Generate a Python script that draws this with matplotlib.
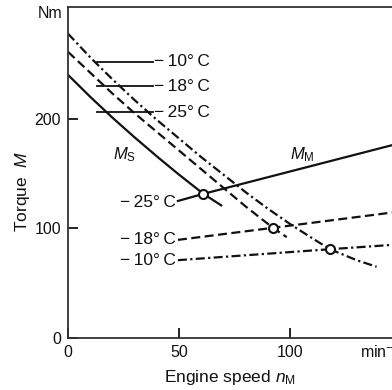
import matplotlib
matplotlib.use("Agg")
import matplotlib.pyplot as plt
import numpy as np

plt.rcParams['font.family'] = ['Liberation Sans', 'DejaVu Sans']
plt.rcParams['mathtext.fontset'] = 'custom'
plt.rcParams['mathtext.rm'] = 'Liberation Sans'
plt.rcParams['mathtext.it'] = 'Liberation Sans:italic'
plt.rcParams['lines.scale_dashes'] = False

# starter torque demand M_S vs engine speed, one curve per temperature
ms_x_25 = [0, 10, 20, 30, 41, 50, 61, 69]
ms_y_25 = [240, 220, 201, 183, 164, 149, 131.5, 121]
ms_x_18 = [0, 10, 20, 30, 40, 50, 60, 70, 80, 92.3, 98.5]
ms_y_18 = [261, 242, 223, 205, 188, 171, 154, 137, 120, 100.5, 92]
ms_x_10 = [0, 10, 20, 30, 40, 50, 60, 70, 80, 90, 100, 110, 118, 130, 139]
ms_y_10 = [277.6, 256, 236, 217, 199, 182, 165, 149, 133, 118, 104, 91, 81, 71, 65]

# engine drag torque M_M
mm_x_25 = [49.5, 61, 150]
mm_y_25 = [125, 131.5, 178]
mm_x_18 = [49.5, 92.3, 150]
mm_y_18 = [89.5, 100.5, 115.5]
mm_x_10 = [49.5, 118, 150]
mm_y_10 = [71, 81, 85.5]

# operating points (intersections)
op_x = [61, 92.3, 118]
op_y = [131.5, 100.5, 81]

temps = ["−\u200910°\u2009C", "−\u200918°\u2009C", "−\u200925°\u2009C"]
right_label_y = [252, 229.5, 206]
left_label_y = [70.6, 89.5, 124]

dashed = (0, (6.5, 3.2))
dashdot = (0, (6.5, 2.4, 1.6, 2.4))
ink = '#111111'
lw = 1.6

fig = plt.figure(figsize=(3.92, 3.90), dpi=100)
ax = fig.add_axes([0.1735, 0.1333, 0.8495, 0.849])

ax.plot(ms_x_25, ms_y_25, color=ink, lw=lw)
ax.plot(ms_x_18, ms_y_18, color=ink, lw=lw, linestyle=dashed)
ax.plot(ms_x_10, ms_y_10, color=ink, lw=lw, linestyle=dashdot)

ax.plot(mm_x_25, mm_y_25, color=ink, lw=lw)
ax.plot(mm_x_18, mm_y_18, color=ink, lw=lw, linestyle=dashed)
ax.plot(mm_x_10, mm_y_10, color=ink, lw=lw, linestyle=dashdot)

ax.plot(op_x, op_y, 'o', ms=6.5, mfc='white', mec=ink, mew=1.5, zorder=5)

# leader lines to the temperature labels at top
for yy, t in zip(right_label_y, temps):
    ax.plot([13, 38.5], [yy, yy], color=ink, lw=1.3)
    ax.text(38.6, yy, t, fontsize=12.5, va='center', ha='left', color=ink)

for yy, t in zip(left_label_y, temps):
    ax.text(48.6, yy, t, fontsize=12.5, va='center', ha='right', color=ink)

ax.text(25.5, 167, r'$M_{\mathrm{S}}$', fontsize=12, ha='center', va='center', color=ink)
ax.text(105.5, 167, r'$M_{\mathrm{M}}$', fontsize=12, ha='center', va='center', color=ink)

ax.set_xlim(0, 150)
ax.set_ylim(0, 302)
ax.set_xticks([0, 50, 100])
ax.set_yticks([0, 100, 200])
ax.tick_params(direction='in', length=7, width=1.3, labelsize=11.5, colors=ink, pad=5)
ax.text(-0.017, 296, 'Nm', transform=ax.get_yaxis_transform(), fontsize=11.5,
        ha='right', va='center', color=ink)
ax.text(131.5, -4, 'min$^{-1}$', fontsize=11.5, ha='left', va='top', color=ink)

ax.spines['right'].set_visible(False)
for s in ['left', 'bottom', 'top']:
    ax.spines[s].set_linewidth(1.3)
    ax.spines[s].set_color('#333333')

ax.set_ylabel(r'Torque  $M$', fontsize=12.5, color=ink)
ax.yaxis.set_label_coords(-0.109, 0.444)
ax.set_xlabel(r'Engine speed $n_{\mathrm{M}}$', fontsize=12.5, color=ink)
ax.xaxis.set_label_coords(0.486, -0.091)

fig.savefig('out.png', dpi=100)
